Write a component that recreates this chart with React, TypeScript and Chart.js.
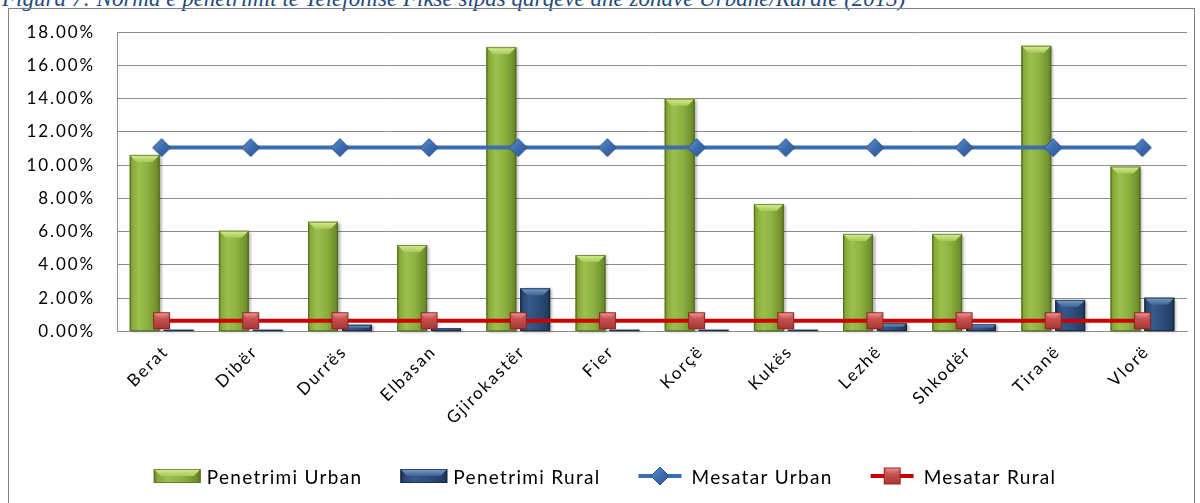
import React, { useEffect, useRef } from 'react';
import { Chart, registerables } from 'chart.js';

Chart.register(...registerables);

const categories = ['Berat', 'Dibër', 'Durrës', 'Elbasan', 'Gjirokastër', 'Fier', 'Korçë', 'Kukës', 'Lezhë', 'Shkodër', 'Tiranë', 'Vlorë'];
const penetrimiUrban = [10.62, 6.06, 6.6, 5.2, 17.1, 4.6, 14.0, 7.67, 5.87, 5.87, 17.18, 9.92];
const penetrimiRural = [0.1, 0.1, 0.4, 0.2, 2.6, 0.1, 0.1, 0.1, 0.5, 0.43, 1.9, 2.03];
const mesatarUrban = [11.06, 11.06, 11.06, 11.06, 11.06, 11.06, 11.06, 11.06, 11.06, 11.06, 11.06, 11.06];
const mesatarRural = [0.65, 0.65, 0.65, 0.65, 0.65, 0.65, 0.65, 0.65, 0.65, 0.65, 0.65, 0.65];
const seriesLabels = ['Penetrimi Urban', 'Penetrimi Rural', 'Mesatar Urban', 'Mesatar Rural'];
const yMin = 0;
const yMax = 18;
const yStep = 2;
const caption = 'Figura 7: Norma e penetrimit të Telefonisë Fikse sipas qarqeve dhe zonave Urbane/Rurale (2013)';

type Palette = { body: [number, string][]; bevelTop: string; bevelBottom: string; edge: string };

const greenPal: Palette = {
  body: [[0, '#5F7D22'], [0.08, '#86A93A'], [0.3, '#9CC04E'], [0.6, '#8DB241'], [0.92, '#6E8F2B'], [1, '#58741F']],
  bevelTop: '#D6EE92',
  bevelBottom: '#A6CA58',
  edge: 'rgba(80,105,30,0.7)',
};
const bluePal: Palette = {
  body: [[0, '#14253D'], [0.08, '#2A4A74'], [0.3, '#36598A'], [0.6, '#2D4E7B'], [0.92, '#223E63'], [1, '#162A45']],
  bevelTop: '#7C9CC8',
  bevelBottom: '#3F6495',
  edge: 'rgba(20,35,60,0.7)',
};
const palettes = [greenPal, bluePal];

function paintBar(ctx: CanvasRenderingContext2D, left: number, top: number, w: number, h: number, pal: Palette, shadow = true) {
  if (h <= 0 || w <= 0) return;
  ctx.save();
  if (shadow) {
    ctx.shadowColor = 'rgba(0,0,0,0.35)';
    ctx.shadowBlur = 3;
    ctx.shadowOffsetX = 2;
    ctx.shadowOffsetY = 1;
  }
  const g = ctx.createLinearGradient(left, 0, left + w, 0);
  pal.body.forEach(([s, c]) => g.addColorStop(s, c));
  ctx.fillStyle = g;
  ctx.fillRect(left, top, w, h);
  ctx.restore();
  ctx.save();
  const b = Math.min(7, h / 2, w / 4);
  const gb = ctx.createLinearGradient(0, top, 0, top + b);
  gb.addColorStop(0, pal.bevelTop);
  gb.addColorStop(1, pal.bevelBottom);
  ctx.fillStyle = gb;
  ctx.beginPath();
  ctx.moveTo(left, top);
  ctx.lineTo(left + w, top);
  ctx.lineTo(left + w - b, top + b);
  ctx.lineTo(left + b, top + b);
  ctx.closePath();
  ctx.fill();
  ctx.strokeStyle = pal.edge;
  ctx.lineWidth = 1;
  ctx.strokeRect(left + 0.5, top + 0.5, w - 1, h - 1);
  ctx.restore();
}

function makeDiamond(): HTMLCanvasElement {
  const c = document.createElement('canvas');
  c.width = 20;
  c.height = 20;
  const ctx = c.getContext('2d')!;
  const g = ctx.createLinearGradient(0, 0, 20, 20);
  g.addColorStop(0, '#6A9AD8');
  g.addColorStop(0.5, '#3C6DB0');
  g.addColorStop(1, '#2A5590');
  ctx.fillStyle = g;
  ctx.beginPath();
  ctx.moveTo(10, 1);
  ctx.lineTo(19, 10);
  ctx.lineTo(10, 19);
  ctx.lineTo(1, 10);
  ctx.closePath();
  ctx.fill();
  ctx.strokeStyle = '#2B5289';
  ctx.lineWidth = 1;
  ctx.stroke();
  return c;
}

function makeSquare(): HTMLCanvasElement {
  const c = document.createElement('canvas');
  c.width = 19;
  c.height = 19;
  const ctx = c.getContext('2d')!;
  const g = ctx.createLinearGradient(0, 0, 0, 19);
  g.addColorStop(0, '#D86A68');
  g.addColorStop(1, '#A8302E');
  ctx.fillStyle = g;
  ctx.fillRect(1, 1, 17, 17);
  const hl = ctx.createLinearGradient(0, 1, 0, 8);
  hl.addColorStop(0, 'rgba(255,170,170,0.9)');
  hl.addColorStop(1, 'rgba(220,100,100,0.2)');
  ctx.fillStyle = hl;
  ctx.beginPath();
  ctx.moveTo(1, 1);
  ctx.lineTo(18, 1);
  ctx.lineTo(13, 7);
  ctx.lineTo(6, 7);
  ctx.closePath();
  ctx.fill();
  ctx.strokeStyle = '#8E2624';
  ctx.lineWidth = 1;
  ctx.strokeRect(1.5, 1.5, 16, 16);
  return c;
}

const barSkin = {
  id: 'barSkin',
  afterDatasetDraw(chart: any, args: any) {
    const meta = args.meta;
    if (meta.type !== 'bar') return;
    const pal = palettes[args.index] || greenPal;
    const ctx = chart.ctx as CanvasRenderingContext2D;
    meta.data.forEach((el: any) => {
      const p = el.getProps(['x', 'y', 'base', 'width'], true);
      const left = p.x - p.width / 2;
      const top = Math.min(p.y, p.base);
      const h = Math.abs(p.base - p.y);
      paintBar(ctx, left, top, p.width, h, pal);
    });
  },
};

const spacing = {
  id: 'spacing',
  beforeUpdate(chart: any) {
    (chart.ctx as any).letterSpacing = '1.9px';
  },
  beforeDraw(chart: any) {
    (chart.ctx as any).letterSpacing = '1.9px';
  },
};

const excelLegend = {
  id: 'excelLegend',
  afterDraw(chart: any) {
    const ctx = chart.ctx as CanvasRenderingContext2D;
    ctx.save();
    ctx.font = '19px Lato';
    (ctx as any).letterSpacing = '1.3px';
    ctx.textBaseline = 'middle';
    ctx.textAlign = 'left';
    ctx.fillStyle = '#000';
    const symW = 47;
    const gap = 6;
    const itemGap = 38;
    const ds = chart.data.datasets;
    const widths = ds.map((d: any) => ctx.measureText(d.label).width);
    const total = widths.reduce((a: number, w: number) => a + symW + gap + w, 0) + itemGap * (ds.length - 1);
    let x = 605 - total / 2;
    const cy = 476;
    ds.forEach((d: any, i: number) => {
      if (d.type === 'bar') {
        paintBar(ctx, x, cy - 7, symW, 14, palettes[i], false);
      } else {
        ctx.save();
        ctx.strokeStyle = d.borderColor;
        ctx.lineWidth = 4;
        ctx.beginPath();
        ctx.moveTo(x, cy);
        ctx.lineTo(x + symW - 4, cy);
        ctx.stroke();
        const img = d.pointStyle as HTMLCanvasElement;
        ctx.drawImage(img, x + (symW - 4) / 2 - img.width / 2, cy - img.height / 2);
        ctx.restore();
      }
      ctx.fillStyle = '#000';
      ctx.fillText(d.label, x + symW + gap, cy + 2);
      x += symW + gap + widths[i] + itemGap;
    });
    ctx.restore();
  },
};

export default function App() {
  const ref = useRef<HTMLCanvasElement | null>(null);

  useEffect(() => {
    document.body.style.margin = '0';
    const canvas = ref.current;
    if (!canvas) return;
    Chart.defaults.font.family = 'Lato';
    const diamond = makeDiamond();
    const square = makeSquare();
    const chart = new Chart(canvas, {
      type: 'bar',
      data: {
        labels: categories,
        datasets: [
          {
            type: 'bar',
            label: seriesLabels[0],
            data: penetrimiUrban,
            backgroundColor: '#8DB241',
            borderWidth: 0,
            order: 2,
            barPercentage: 0.88,
            categoryPercentage: 0.76,
          },
          {
            type: 'bar',
            label: seriesLabels[1],
            data: penetrimiRural,
            backgroundColor: '#2D4E7B',
            borderWidth: 0,
            order: 2,
            barPercentage: 0.88,
            categoryPercentage: 0.76,
          },
          {
            type: 'line',
            label: seriesLabels[2],
            data: mesatarUrban,
            borderColor: '#3C6DB0',
            borderWidth: 4,
            pointStyle: diamond as any,
            pointRadius: 9,
            tension: 0,
            order: 1,
          },
          {
            type: 'line',
            label: seriesLabels[3],
            data: mesatarRural,
            borderColor: '#CC0000',
            borderWidth: 4,
            pointStyle: square as any,
            pointRadius: 9,
            tension: 0,
            order: 1,
          },
        ] as any,
      },
      options: {
        responsive: false,
        animation: false,
        devicePixelRatio: 1,
        layout: { padding: { left: 0, right: 12, top: 32, bottom: 0 } },
        plugins: {
          legend: { display: false },
          tooltip: { enabled: false },
          title: { display: false },
        },
        scales: {
          x: {
            grid: { display: false, drawTicks: false },
            border: { display: true, color: '#8C8C8C', width: 1 },
            ticks: {
              autoSkip: false,
              maxRotation: 45,
              minRotation: 45,
              padding: 10,
              labelOffset: 4,
              color: '#000',
              font: { size: 17, family: 'Lato' },
            },
            afterFit: (scale: any) => {
              scale.height = 171.5;
            },
          },
          y: {
            min: yMin,
            max: yMax,
            grid: { color: '#8C8C8C', lineWidth: 1, drawTicks: false },
            border: { display: true, color: '#8C8C8C', width: 1 },
            ticks: {
              stepSize: yStep,
              padding: 22,
              color: '#000',
              font: { size: 17, family: 'Lato' },
              callback: (v: any) => Number(v).toFixed(2) + '%',
            },
            afterFit: (scale: any) => {
              scale.width = 117;
            },
          },
        },
      },
      plugins: [spacing, barSkin, excelLegend],
    });
    return () => chart.destroy();
  }, []);

  return (
    <div style={{ position: 'absolute', left: 0, top: 0, width: 1200, height: 503, overflow: 'hidden', background: '#fff' }}>
      <div
        style={{
          position: 'absolute',
          left: 2,
          top: -13,
          whiteSpace: 'nowrap',
          fontFamily: '"Liberation Serif", serif',
          fontStyle: 'italic',
          fontSize: 23,
          lineHeight: '23px',
          color: '#1F497D',
        }}
      >
        {caption}
      </div>
      <div
        style={{
          position: 'absolute',
          left: 8,
          top: 8,
          width: 1187,
          height: 560,
          border: '1px solid #808080',
          boxSizing: 'border-box',
        }}
      />
      <canvas ref={ref} width={1200} height={503} style={{ position: 'absolute', left: 0, top: 0, display: 'block' }} />
    </div>
  );
}
